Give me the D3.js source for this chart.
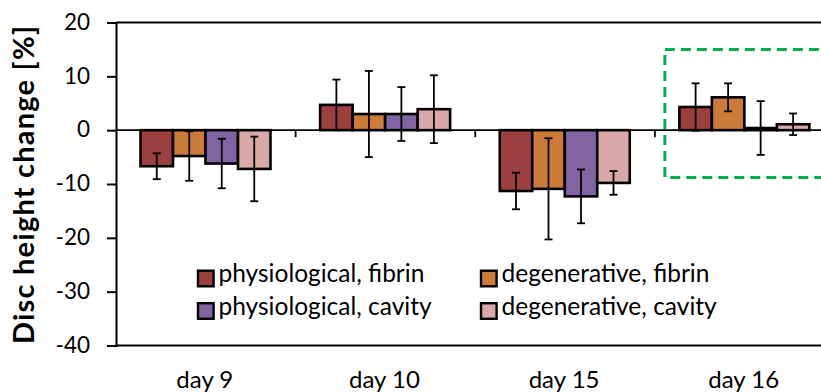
<!DOCTYPE html>
<html>
<head>
<meta charset="utf-8">
<script src="https://cdn.jsdelivr.net/npm/d3@7"></script>
<style>
  body { margin: 0; background: #fff; }
  svg { display: block; font-family: Lato, "Open Sans", sans-serif; }
</style>
</head>
<body>
<div id="chart"></div>
<script>
// categories and series
const days = ["day 9", "day 10", "day 15", "day 16"];
const seriesNames = ["physiological, fibrin", "degenerative, fibrin", "physiological, cavity", "degenerative, cavity"];

// mean values (%) per day
const physFibrin = [-6.7, 4.7, -11.3, 4.3];
const degFibrin = [-4.8, 3.0, -10.9, 6.1];
const physCavity = [-6.2, 3.0, -12.3, 0.4];
const degCavity = [-7.2, 3.9, -9.8, 1.1];

// error bar half widths
const physFibrinErr = [2.4, 4.7, 3.4, 4.4];
const degFibrinErr = [4.6, 8.0, 9.4, 2.6];
const physCavityErr = [4.6, 5.0, 5.0, 5.0];
const degCavityErr = [6.0, 6.3, 2.2, 2.0];

const yTicks = [-40, -30, -20, -10, 0, 10, 20];

// highlighted region (day 16), in data units
const highlightDay = "day 16";
const highlightTop = 15;
const highlightBottom = -8.8;

const colors = ["#9c3f3f", "#cc7b38", "#8064a2", "#d9a9a9"];

const W = 821, H = 392;
const margin = { top: 22.5, left: 116, bottom: 46.5 };
const plotRight = 834.5;

const svg = d3.select("#chart").append("svg")
  .attr("width", W)
  .attr("height", H);

const x0 = d3.scaleBand().domain(days).range([margin.left, plotRight]).padding(0);
const x1 = d3.scaleBand().domain(seriesNames).range([24.5, 154.5]).padding(0);
const y = d3.scaleLinear().domain([-40, 20]).range([H - margin.bottom, margin.top]);

const means = [physFibrin, degFibrin, physCavity, degCavity];
const errs = [physFibrinErr, degFibrinErr, physCavityErr, degCavityErr];

const rows = [];
days.forEach((d, i) => {
  seriesNames.forEach((s, j) => {
    rows.push({ day: d, series: s, idx: j, value: means[j][i], err: errs[j][i] });
  });
});

// frame lines: top, bottom
svg.append("line")
  .attr("x1", margin.left).attr("x2", W + 20)
  .attr("y1", y(20)).attr("y2", y(20))
  .attr("stroke", "#000").attr("stroke-width", 2);
svg.append("line")
  .attr("x1", margin.left).attr("x2", W + 20)
  .attr("y1", y(-40)).attr("y2", y(-40))
  .attr("stroke", "#000").attr("stroke-width", 2);

// y axis
const yAxis = svg.append("g")
  .attr("transform", `translate(${margin.left},0)`)
  .call(d3.axisLeft(y).tickValues(yTicks).tickSize(9).tickPadding(17).tickFormat(d => String(d)));
yAxis.select(".domain").attr("stroke-width", 2);
yAxis.selectAll(".tick line").attr("stroke-width", 2);
yAxis.selectAll(".tick text")
  .attr("font-size", 22.5)
  .attr("font-family", "Lato, sans-serif")
  .attr("fill", "#000")
  .attr("dy", "0.3em");

// bars
const bars = svg.append("g");
bars.selectAll("rect")
  .data(rows)
  .join("rect")
  .attr("x", d => x0(d.day) + x1(d.series))
  .attr("y", d => y(Math.max(0, d.value)))
  .attr("width", x1.bandwidth())
  .attr("height", d => Math.abs(y(d.value) - y(0)))
  .attr("fill", d => colors[d.idx])
  .attr("stroke", "#000")
  .attr("stroke-width", 2.6);

// zero line + category ticks
svg.append("line")
  .attr("x1", margin.left).attr("x2", W + 20)
  .attr("y1", y(0)).attr("y2", y(0))
  .attr("stroke", "#000").attr("stroke-width", 1.8);
svg.append("g").selectAll("line")
  .data(days.slice(1))
  .join("line")
  .attr("x1", d => x0(d)).attr("x2", d => x0(d))
  .attr("y1", y(0)).attr("y2", y(0) + 7)
  .attr("stroke", "#000").attr("stroke-width", 1.8);

// error bars
const eb = svg.append("g").attr("stroke", "#000").attr("stroke-width", 1.8);
const cx = d => x0(d.day) + x1(d.series) + x1.bandwidth() / 2;
eb.selectAll(".v").data(rows).join("line")
  .attr("x1", cx).attr("x2", cx)
  .attr("y1", d => y(d.value + d.err)).attr("y2", d => y(d.value - d.err));
eb.selectAll(".t").data(rows).join("line")
  .attr("x1", d => cx(d) - 4).attr("x2", d => cx(d) + 4)
  .attr("y1", d => y(d.value + d.err)).attr("y2", d => y(d.value + d.err));
eb.selectAll(".b").data(rows).join("line")
  .attr("x1", d => cx(d) - 4).attr("x2", d => cx(d) + 4)
  .attr("y1", d => y(d.value - d.err)).attr("y2", d => y(d.value - d.err));

// x labels
svg.append("g").selectAll("text")
  .data(days)
  .join("text")
  .attr("x", d => x0(d) + x0.bandwidth() / 2 - 1)
  .attr("y", 388)
  .attr("text-anchor", "middle")
  .attr("font-size", 24)
  .text(d => d);

// y title
svg.append("text")
  .attr("transform", `translate(34,185) rotate(-90)`)
  .attr("text-anchor", "middle")
  .attr("font-size", 29)
  .attr("font-weight", "bold")
  .attr("textLength", 318)
  .attr("lengthAdjust", "spacing")
  .text("Disc height change [%]");

// legend
const legPos = [[198, 278.5], [481, 278.5], [198, 311], [481, 311]];
const leg = svg.append("g");
seriesNames.forEach((s, i) => {
  const [lx, ly] = legPos[i];
  leg.append("rect")
    .attr("x", lx).attr("y", ly - 7.8)
    .attr("width", 15.6).attr("height", 15.6)
    .attr("fill", colors[i])
    .attr("stroke", "#000").attr("stroke-width", 2.4);
  leg.append("text")
    .attr("x", lx + 20.5).attr("y", ly + 3.5)
    .attr("font-size", 24.5)
    .text(s);
});

// highlight box round day 16
svg.append("rect")
  .attr("x", x0(highlightDay) + 10)
  .attr("y", y(highlightTop))
  .attr("width", x0.bandwidth() + 20)
  .attr("height", y(highlightBottom) - y(highlightTop))
  .attr("fill", "none")
  .attr("stroke", "#00b050")
  .attr("stroke-width", 3)
  .attr("stroke-dasharray", "10,6");
</script>
</body>
</html>
